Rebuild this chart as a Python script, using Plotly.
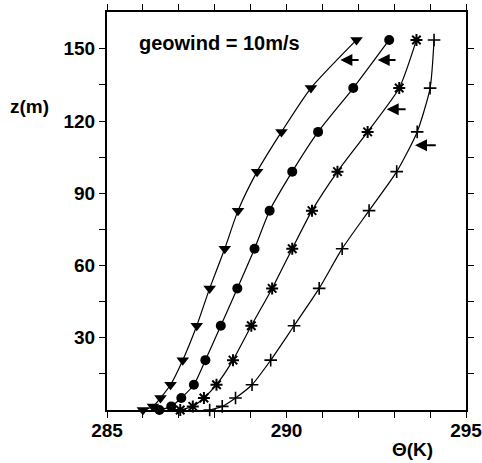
import plotly.graph_objects as go

# Heights (m) of the profile levels
z_levels = [0, 1.5, 5, 10.5, 20.7, 35, 50.5, 67, 82.8, 99, 115.5, 133.7, 153.7]

# Potential temperature (K) for the four profiles
theta_tri = [286.0, 286.28, 286.49, 286.77, 287.11, 287.50, 287.86, 288.28, 288.65, 289.18, 289.86, 290.68, 291.95]
theta_circ = [286.46, 286.79, 287.07, 287.42, 287.74, 288.17, 288.63, 289.11, 289.53, 290.16, 290.88, 291.86, 292.86]
theta_ast = [287.04, 287.39, 287.70, 288.05, 288.51, 289.02, 289.60, 290.16, 290.71, 291.42, 292.26, 293.14, 293.62]
theta_plus = [287.86, 288.21, 288.58, 289.04, 289.56, 290.21, 290.91, 291.55, 292.30, 293.07, 293.64, 294.0, 294.11]

# Arrows (tip theta, tail theta, height)
arrow_tip = [291.5, 292.54, 292.79, 293.58]
arrow_tail = [292.05, 293.08, 293.36, 294.2]
arrow_z = [145.4, 145.4, 124.9, 110.0]

x_ticks = list(range(285, 296))
x_labels = [str(v) if v % 5 == 0 else "" for v in x_ticks]
y_ticks = list(range(15, 151, 15))
y_labels = [str(v) if v % 30 == 0 else "" for v in y_ticks]

FONT = "Liberation Sans"
L, R, T, B = 107, 16, 12, 53
W, H = 482, 463
pw, ph = W - L - R, H - T - B


def px_x(x):
    return (x - L) / pw


def px_y(y):
    return (H - B - y) / ph


fig = go.Figure()
series = [
    (theta_tri, dict(symbol="triangle-down", size=11, color="black")),
    (theta_circ, dict(symbol="circle", size=10, color="black")),
    (theta_ast, dict(symbol="asterisk-open", size=10, color="black", line=dict(width=2, color="black"))),
    (theta_plus, dict(symbol="cross-thin-open", size=9, color="black", line=dict(width=1.6, color="black"))),
]
for th, mk in series:
    fig.add_trace(go.Scatter(
        x=th, y=z_levels, mode="lines+markers",
        line=dict(color="black", width=1.2, shape="spline", smoothing=0.6),
        marker=mk, cliponaxis=False, showlegend=False,
    ))

for tip, tail, zz in zip(arrow_tip, arrow_tail, arrow_z):
    fig.add_annotation(
        x=tip, y=zz, ax=tail, ay=zz, xref="x", yref="y", axref="x", ayref="y",
        text="", showarrow=True, arrowhead=2, arrowsize=1.2, arrowwidth=2,
        arrowcolor="black", standoff=0,
    )

fig.add_annotation(x=px_x(137), y=px_y(43), xref="paper", yref="paper", xanchor="left", yanchor="middle",
                   text="geowind = 10m/s", showarrow=False,
                   font=dict(family=FONT, size=20, color="black", weight="bold"))
fig.add_annotation(x=px_x(8), y=px_y(107), xref="paper", yref="paper", xanchor="left", yanchor="middle",
                   text="z(m)", showarrow=False,
                   font=dict(family=FONT, size=19, color="black", weight="bold"))
fig.add_annotation(x=px_x(412), y=px_y(449), xref="paper", yref="paper", xanchor="center", yanchor="middle",
                   text="\u0398(K)", showarrow=False,
                   font=dict(family=FONT, size=19, color="black", weight="bold"))

axis_common = dict(
    showline=True, linecolor="black", linewidth=2, mirror="ticks",
    ticks="outside", ticklen=6, tickwidth=1.2, tickcolor="black",
    showgrid=False, zeroline=False, automargin=False,
    ticklabeloverflow="allow",
    tickfont=dict(family=FONT, size=19, color="black", weight="bold"),
)
fig.update_xaxes(range=[285, 295], tickmode="array", tickvals=x_ticks, ticktext=x_labels,
                 ticklabelstandoff=-4, **axis_common)
fig.update_yaxes(range=[0, 165.3], tickmode="array", tickvals=y_ticks, ticktext=y_labels,
                 ticklabelstandoff=0, **axis_common)

fig.update_layout(
    width=W, height=H,
    margin=dict(l=L, r=R, t=T, b=B, autoexpand=False),
    paper_bgcolor="white", plot_bgcolor="white",
)

fig.write_html("out.html", config={"displayModeBar": False},
               post_script="document.body.style.margin='0';document.body.style.overflow='hidden';")
